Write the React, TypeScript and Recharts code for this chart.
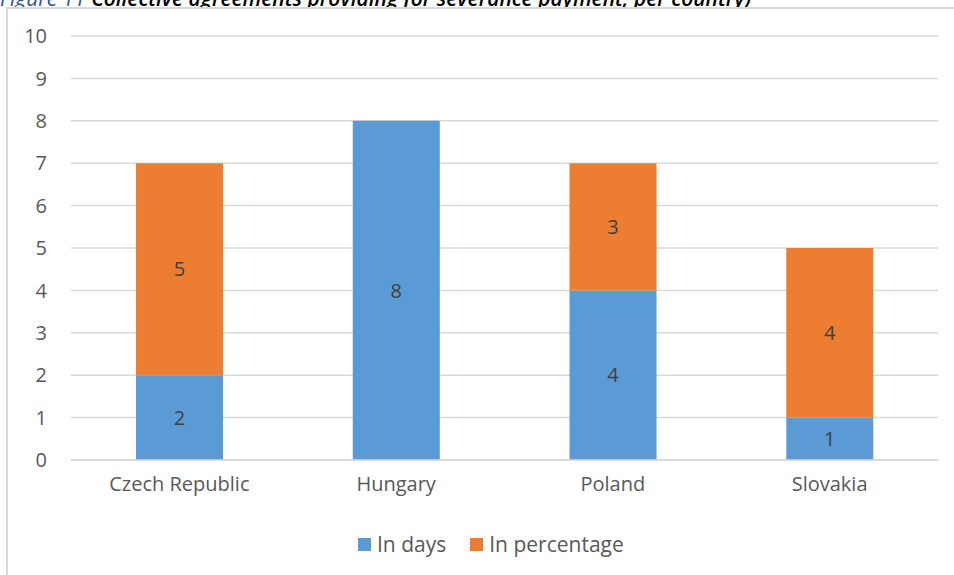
import React from "react";
import { BarChart, Bar, XAxis, YAxis, CartesianGrid, LabelList } from "recharts";

const countries = ["Czech Republic", "Hungary", "Poland", "Slovakia"];
const inDays = [2, 8, 4, 1];
const inPercentage: (number | null)[] = [5, null, 3, 4];
const yTicks = [0, 1, 2, 3, 4, 5, 6, 7, 8, 9, 10];

const data = countries.map((c, i) => ({ name: c, days: inDays[i], pct: inPercentage[i] }));

const FONT = "'Open Sans', Lato, sans-serif";

export default function App() {
  return (
    <div style={{ position: "fixed", left: 0, top: 0, width: 954, height: 575, overflow: "hidden", background: "#fff", fontFamily: FONT }}>
      <div style={{ position: "absolute", left: 0, top: -14, whiteSpace: "nowrap", fontSize: 21, lineHeight: "24px", fontStyle: "italic", fontWeight: 600 }}>
        <span style={{ color: "#2f5597", fontWeight: 400 }}>Figure 11 </span>
        <span style={{ color: "#000" }}>Collective agreements providing for severance payment, per country)</span>
      </div>
      <div style={{ position: "absolute", left: 6, top: 7, width: 1000, height: 600, borderLeft: "2px solid #d9d9d9", borderTop: "2px solid #d9d9d9", background: "#fff" }} />
      <div style={{ position: "absolute", left: 0, top: 0 }}>
        <BarChart width={954} height={575} data={data} margin={{ top: 36, right: 16, left: 0, bottom: 0 }} barCategoryGap="30%">
          <CartesianGrid vertical={false} stroke="#d9d9d9" strokeWidth={1.5} />
          <XAxis dataKey="name" axisLine={{ stroke: "#d9d9d9", strokeWidth: 1.5 }} tickLine={false} tickSize={0} tickMargin={17} height={115}
            tick={{ fill: "#595959", fontSize: 20, fontFamily: FONT }} />
          <YAxis domain={[0, 10]} ticks={yTicks} axisLine={false} tickLine={false} tickSize={0} tickMargin={24} width={71}
            tick={{ fill: "#595959", fontSize: 20, fontFamily: FONT }} />
          <Bar dataKey="days" stackId="a" fill="#5b9bd5" isAnimationActive={false}>
            <LabelList dataKey="days" position="center" fill="#404040" fontSize={20} fontFamily={FONT} />
          </Bar>
          <Bar dataKey="pct" stackId="a" fill="#ed7d31" isAnimationActive={false}>
            <LabelList dataKey="pct" position="center" fill="#404040" fontSize={20} fontFamily={FONT} />
          </Bar>
        </BarChart>
      </div>
      <div style={{ position: "absolute", left: 358, top: 530, display: "flex", alignItems: "center", fontSize: 21, color: "#595959", whiteSpace: "nowrap" }}>
        <span style={{ display: "inline-block", width: 13, height: 13, background: "#5b9bd5", marginRight: 6 }} />
        <span style={{ marginRight: 24 }}>In days</span>
        <span style={{ display: "inline-block", width: 13, height: 13, background: "#ed7d31", marginRight: 6 }} />
        <span>In percentage</span>
      </div>
    </div>
  );
}
